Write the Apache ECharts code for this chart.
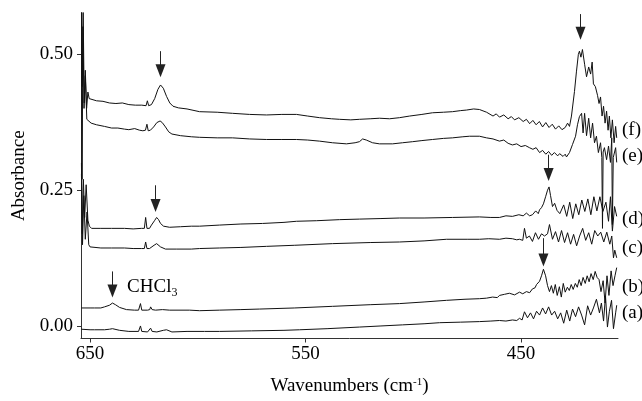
<!DOCTYPE html>
<html><head><meta charset="utf-8">
<script src="https://cdn.jsdelivr.net/npm/echarts@6/dist/echarts.min.js"></script>
<style>html,body{margin:0;padding:0;background:#fff}#c{width:642px;height:401px}</style>
</head><body><div id="c"></div>
<script>
// tick values
const xTicks = [650, 550, 450];
const yTicks = [0, 0.25, 0.5];
const seriesNames = ['(a)', '(b)', '(c)', '(d)', '(e)', '(f)'];

// spectra: [wavenumber, absorbance]
const specA = [[654.0,-0.005],[650,-0.006],[647.9,-0.006],[643.3,-0.006],[641,-0.005],[639.6,-0.004],[636.3,-0.007],[632,-0.009],[627.5,-0.009],[626.9,-0.009],[626.6,0.001],[626.0,-0.009],[623.3,-0.010],[622.5,-0.009],[621.9,-0.003],[621.2,-0.009],[619,-0.010],[616,-0.007],[614.5,-0.006],[612,-0.010],[605,-0.009],[596.9,-0.009],[589.9,-0.009],[575,-0.008],[560,-0.007],[552.8,-0.006],[540,-0.004],[525,-0.001],[515,0.001],[505,0.003],[495,0.005],[487.8,0.007],[478,0.008],[469.3,0.009],[464,0.010],[460,0.011],[457,0.010],[454,0.012],[452,0.011],[450.7,0.015],[449.5,0.012],[448.4,0.027],[447.0,0.016],[445.6,0.025],[444.2,0.014],[442.8,0.028],[441.4,0.021],[440.0,0.034],[438.6,0.023],[437.2,0.036],[435.8,0.021],[434.4,0.028],[433.0,0.014],[431.6,0.025],[430.2,0.006],[428.8,0.030],[427.4,0.010],[426.1,0.032],[424.7,0.018],[423.3,0.036],[421.9,0.021],[420.5,0.003],[419.1,0.038],[417.7,0.021],[416.4,0.034],[415.0,0.050],[413.6,0.025],[412.7,0.043],[411.7,0.010],[410.8,0.056],[409.9,-0.001],[409.0,0.028],[408.0,0.048],[407.1,-0.004],[406.1,0.025],[405.6,0.039]];
const specB = [[654.0,0.034],[650,0.034],[647.9,0.034],[645,0.034],[643.3,0.036],[641,0.039],[639.6,0.043],[638.2,0.040],[636.3,0.035],[633.1,0.031],[629.4,0.030],[627.5,0.030],[626.9,0.030],[626.6,0.042],[626.0,0.030],[623.3,0.030],[622.3,0.031],[621.9,0.036],[621.2,0.031],[619.6,0.030],[616.4,0.031],[613.1,0.030],[603.8,0.030],[599.2,0.029],[590,0.030],[580,0.031],[571.3,0.032],[555,0.034],[537.5,0.037],[520,0.040],[506.4,0.042],[495,0.045],[484.6,0.048],[476,0.050],[469.3,0.051],[466,0.052],[463.2,0.054],[461,0.053],[460,0.057],[457.7,0.059],[455.4,0.061],[453,0.058],[450.7,0.063],[449.2,0.060],[447.5,0.064],[446,0.062],[444.7,0.069],[443.5,0.071],[442.8,0.077],[441.4,0.083],[440.5,0.093],[439.6,0.105],[438.6,0.093],[437.7,0.075],[436.8,0.064],[435.9,0.075],[435.0,0.061],[434.1,0.077],[433.2,0.057],[432.2,0.073],[431.3,0.054],[430.4,0.079],[429.5,0.063],[428.5,0.072],[427.6,0.066],[426.7,0.077],[425.8,0.068],[424.8,0.079],[423.9,0.072],[423.0,0.086],[422.1,0.075],[421.2,0.090],[420.2,0.079],[419.3,0.093],[418.4,0.082],[417.5,0.097],[416.5,0.086],[415.6,0.101],[414.7,0.090],[413.8,0.086],[412.9,0.064],[411.9,0.084],[411.0,0.043],[410.1,0.093],[409.2,0.057],[408.2,0.102],[407.3,0.075],[406.4,0.093],[405.6,0.108]];
const specC = [[654.0,0.28],[653.5,0.15],[652.9,0.24],[652.2,0.16],[651.4,0.21],[650.6,0.150],[650.0,0.146],[649.3,0.144],[645,0.144],[640,0.144],[634,0.144],[630,0.143],[626.2,0.143],[624.8,0.143],[624.2,0.155],[623.6,0.143],[622.4,0.143],[621.5,0.145],[620.3,0.149],[619.1,0.152],[618.2,0.149],[617.3,0.146],[615,0.142],[610,0.142],[603,0.142],[599.2,0.143],[590,0.144],[580,0.145],[568.1,0.147],[555,0.149],[537.5,0.152],[520,0.154],[506.4,0.155],[495,0.157],[484.6,0.160],[475,0.160],[469.3,0.160],[465,0.161],[460,0.160],[457,0.162],[454,0.161],[452,0.159],[450.7,0.160],[449.2,0.158],[448.4,0.180],[447.5,0.162],[446.1,0.166],[444.7,0.156],[443.3,0.172],[441.9,0.160],[440.5,0.170],[439.1,0.166],[437.7,0.170],[436.8,0.187],[435.4,0.160],[434.0,0.174],[432.6,0.155],[431.2,0.176],[429.8,0.154],[428.4,0.172],[427.0,0.151],[425.6,0.169],[424.2,0.148],[422.8,0.166],[421.4,0.180],[420.0,0.158],[418.6,0.172],[417.2,0.151],[415.8,0.176],[414.4,0.166],[413.0,0.173],[411.6,0.155],[410.2,0.173],[408.8,0.151],[407.9,0.166],[407.1,0.126],[406.5,0.140],[405.6,0.126]];
const specD = [[654.0,0.30],[653.6,0.17],[653.1,0.27],[652.5,0.20],[651.8,0.26],[651.0,0.195],[650.3,0.184],[649.3,0.180],[645,0.180],[640,0.180],[634,0.180],[630,0.179],[626.2,0.180],[624.8,0.180],[624.2,0.200],[623.6,0.180],[622.4,0.180],[621.5,0.186],[620.1,0.194],[619.1,0.200],[618.2,0.196],[617.3,0.189],[615.9,0.184],[613.1,0.182],[608,0.183],[603,0.184],[599.2,0.184],[590,0.186],[580,0.188],[570,0.189],[560,0.191],[554.2,0.193],[545,0.194],[534.2,0.196],[525,0.197],[515,0.198],[506.4,0.199],[495,0.199],[481.8,0.200],[469.3,0.201],[464,0.200],[460,0.200],[457,0.203],[454,0.202],[451,0.205],[449,0.203],[447.5,0.208],[446,0.203],[444.7,0.205],[443.2,0.212],[442,0.207],[441.4,0.214],[440.5,0.218],[439.6,0.225],[438.6,0.238],[437.7,0.250],[437.0,0.256],[436.3,0.240],[435.4,0.220],[434.4,0.226],[433.3,0.213],[432,0.207],[430.2,0.223],[428.8,0.202],[427.4,0.228],[426,0.198],[424.6,0.225],[423.2,0.205],[421.8,0.232],[420.4,0.211],[419.0,0.234],[417.6,0.205],[416.2,0.238],[414.8,0.212],[413.4,0.238],[412.0,0.211],[410.6,0.228],[409.4,0.193],[408.5,0.238],[407.6,0.175],[406.6,0.220],[405.6,0.202]];
const specE = [[654.0,0.60],[653.7,0.27],[653.3,0.55],[652.8,0.40],[652.2,0.46],[651.5,0.38],[650.8,0.378],[649.5,0.373],[647,0.370],[643.3,0.367],[640,0.364],[637.1,0.364],[634,0.362],[632,0.361],[629.3,0.363],[627,0.360],[625.5,0.359],[624.3,0.360],[623.6,0.371],[623.0,0.359],[622,0.360],[620.5,0.366],[619,0.374],[617.5,0.377],[616.5,0.374],[615,0.366],[613.5,0.357],[612,0.353],[608,0.350],[603,0.348],[599.2,0.347],[591,0.346],[583.9,0.346],[576,0.344],[568.1,0.343],[561,0.343],[554.2,0.343],[549,0.342],[543.5,0.340],[537.5,0.337],[531,0.335],[527,0.337],[525,0.339],[523.5,0.344],[521.8,0.342],[518.9,0.337],[515.7,0.335],[509.6,0.335],[505,0.337],[500.3,0.339],[496,0.341],[491.1,0.343],[486,0.345],[481.8,0.346],[477,0.348],[473.9,0.349],[469.3,0.349],[466,0.346],[463,0.344],[460,0.340],[458,0.342],[456,0.336],[454,0.333],[452,0.335],[450,0.330],[448,0.332],[446.1,0.328],[444.5,0.325],[443,0.328],[441.4,0.319],[440,0.323],[438.5,0.316],[437.2,0.321],[435.8,0.314],[434.5,0.319],[433,0.313],[432.1,0.317],[430.5,0.312],[429.5,0.316],[428.9,0.311],[427.5,0.319],[426.1,0.334],[424.7,0.349],[423.8,0.370],[422.9,0.385],[421.9,0.391],[421.2,0.355],[420.5,0.391],[419.6,0.350],[418.6,0.382],[417.7,0.346],[416.8,0.373],[415.9,0.337],[415.0,0.349],[414.1,0.319],[413.1,0.337],[412.5,0.310],[412.2,0.180],[411.9,0.320],[411.3,0.328],[410.3,0.306],[409.4,0.331],[408.5,0.301],[407.9,0.346],[407.6,0.187],[407.2,0.310],[406.1,0.328],[405.6,0.301]];
const specF = [[654.0,0.60],[653.6,0.44],[653.2,0.58],[652.7,0.41],[652.2,0.47],[651.6,0.40],[651.0,0.43],[650.4,0.418],[649.5,0.418],[647,0.414],[644,0.413],[641,0.410],[638,0.409],[635,0.410],[632,0.407],[629,0.406],[626,0.406],[624.0,0.405],[623.4,0.414],[622.8,0.405],[621.5,0.407],[620,0.418],[618.5,0.435],[617.3,0.443],[616,0.437],[614.5,0.422],[613,0.410],[611.5,0.404],[609,0.401],[605,0.399],[599.2,0.394],[591,0.393],[583.9,0.391],[576,0.389],[568.1,0.388],[561,0.389],[554.2,0.389],[549,0.386],[543.5,0.383],[538,0.381],[534.2,0.380],[529,0.379],[525,0.380],[520,0.381],[515.7,0.382],[511,0.381],[506.4,0.383],[501.7,0.386],[496,0.389],[491.1,0.392],[486,0.393],[481.8,0.394],[478,0.396],[475.3,0.397],[472,0.399],[469.3,0.398],[466,0.393],[463,0.386],[461.5,0.390],[460,0.384],[458,0.388],[456,0.381],[454.5,0.385],[453,0.379],[451,0.383],[449,0.376],[447.5,0.380],[446,0.372],[444.5,0.378],[443,0.370],[441.5,0.376],[440,0.366],[438.5,0.374],[437,0.365],[435.5,0.371],[434,0.362],[432.5,0.368],[431,0.361],[429.5,0.365],[428.4,0.373],[427.5,0.367],[426.6,0.386],[425.2,0.431],[424.3,0.467],[423.4,0.499],[422.9,0.505],[422.2,0.494],[421.5,0.508],[420.5,0.481],[419.6,0.458],[418.6,0.476],[417.7,0.463],[417.0,0.485],[416.4,0.445],[415.5,0.440],[414.5,0.424],[413.8,0.409],[413.1,0.421],[412.4,0.386],[411.7,0.404],[411.0,0.373],[410.3,0.395],[409.6,0.360],[409.0,0.386],[408.3,0.346],[407.6,0.379],[406.8,0.337],[406.1,0.367],[405.6,0.346]];

// annotation anchors (data units)
const labelLevels = [0.025, 0.072, 0.144, 0.198, 0.312, 0.360];
const arrowX = [617.3, 422.4, 619.6, 437.2, 439.6, 639.6];
const arrowFrom = [0.505, 0.573, 0.259, 0.315, 0.162, 0.101];
const arrowTo = [0.469, 0.538, 0.222, 0.279, 0.122, 0.065];
const chclAnchor = [632.8, 0.070];

const FONT = "'Liberation Serif','Times New Roman',Times,serif";
const specs = [specA, specB, specC, specD, specE, specF];
const chart = echarts.init(document.getElementById('c'), null, { renderer: 'canvas' });

const series = specs.map((d, i) => ({
  type: 'line', name: seriesNames[i], data: d, showSymbol: false, symbol: 'none',
  lineStyle: { color: '#111', width: 1 }, silent: true, animation: false, clip: true
}));
series[0].markLine = {
  silent: true, animation: false, symbol: ['none', 'triangle'], symbolSize: [10, 13],
  lineStyle: { color: '#222', width: 1, type: 'solid' },
  itemStyle: { color: '#000' },
  label: { show: false },
  data: arrowX.map((x, i) => [{ coord: [x, arrowFrom[i]] }, { coord: [x, arrowTo[i]] }])
};
series.push({
  type: 'scatter', silent: true, animation: false, clip: false, symbolSize: 0,
  itemStyle: { opacity: 1 },
  data: labelLevels.map((y, i) => ({ value: [405, y], name: seriesNames[i] })),
  label: { show: true, position: 'right', distance: 4, formatter: '{b}', color: '#000', opacity: 1, fontSize: 19, fontFamily: FONT }
});
series.push({
  type: 'scatter', silent: true, animation: false, clip: false, symbolSize: 0,
  itemStyle: { opacity: 1 },
  data: [{ value: chclAnchor, name: 'CHCl3' }],
  label: {
    show: true, position: 'right', distance: 0, formatter: '{m|CHCl}{s|3}', color: '#000', opacity: 1,
    rich: {
      m: { fontSize: 19, fontFamily: FONT, color: '#000', lineHeight: 20, verticalAlign: 'top' },
      s: { fontSize: 12, fontFamily: FONT, color: '#000', lineHeight: 22, verticalAlign: 'bottom' }
    }
  }
});

chart.setOption({
  animation: false,
  backgroundColor: '#fff',
  grid: { left: 81, right: 24, top: 13, bottom: 57, containLabel: false },
  xAxis: {
    type: 'value', inverse: true, min: 405, max: 654.2,
    axisLine: { show: true, onZero: false, lineStyle: { color: '#333', width: 1 } },
    axisTick: { show: true, length: 4, customValues: xTicks, lineStyle: { color: '#333' } },
    axisLabel: { customValues: xTicks, margin: 6, color: '#000', fontSize: 19, fontFamily: FONT, formatter: v => String(Math.round(v)) },
    splitLine: { show: false },
    name: 'Wavenumbers (cm{sup|-1})', nameLocation: 'middle', nameGap: 38,
    nameTextStyle: { color: '#000', fontSize: 19, fontFamily: FONT,
      rich: { sup: { fontSize: 11, fontFamily: FONT, color: '#000', verticalAlign: 'top', lineHeight: 20 } } }
  },
  yAxis: {
    type: 'value', min: -0.022, max: 0.575,
    axisLine: { show: true, onZero: false, lineStyle: { color: '#333', width: 1 } },
    axisTick: { show: true, length: 4, customValues: yTicks, lineStyle: { color: '#333' } },
    axisLabel: { customValues: yTicks, margin: 8, color: '#000', fontSize: 19, fontFamily: FONT, formatter: v => v.toFixed(2) },
    splitLine: { show: false },
    name: 'Absorbance', nameLocation: 'middle', nameGap: 51, nameRotate: 90,
    nameTextStyle: { color: '#000', fontSize: 19, fontFamily: FONT }
  },
  series: series
});
</script>
</body></html>
